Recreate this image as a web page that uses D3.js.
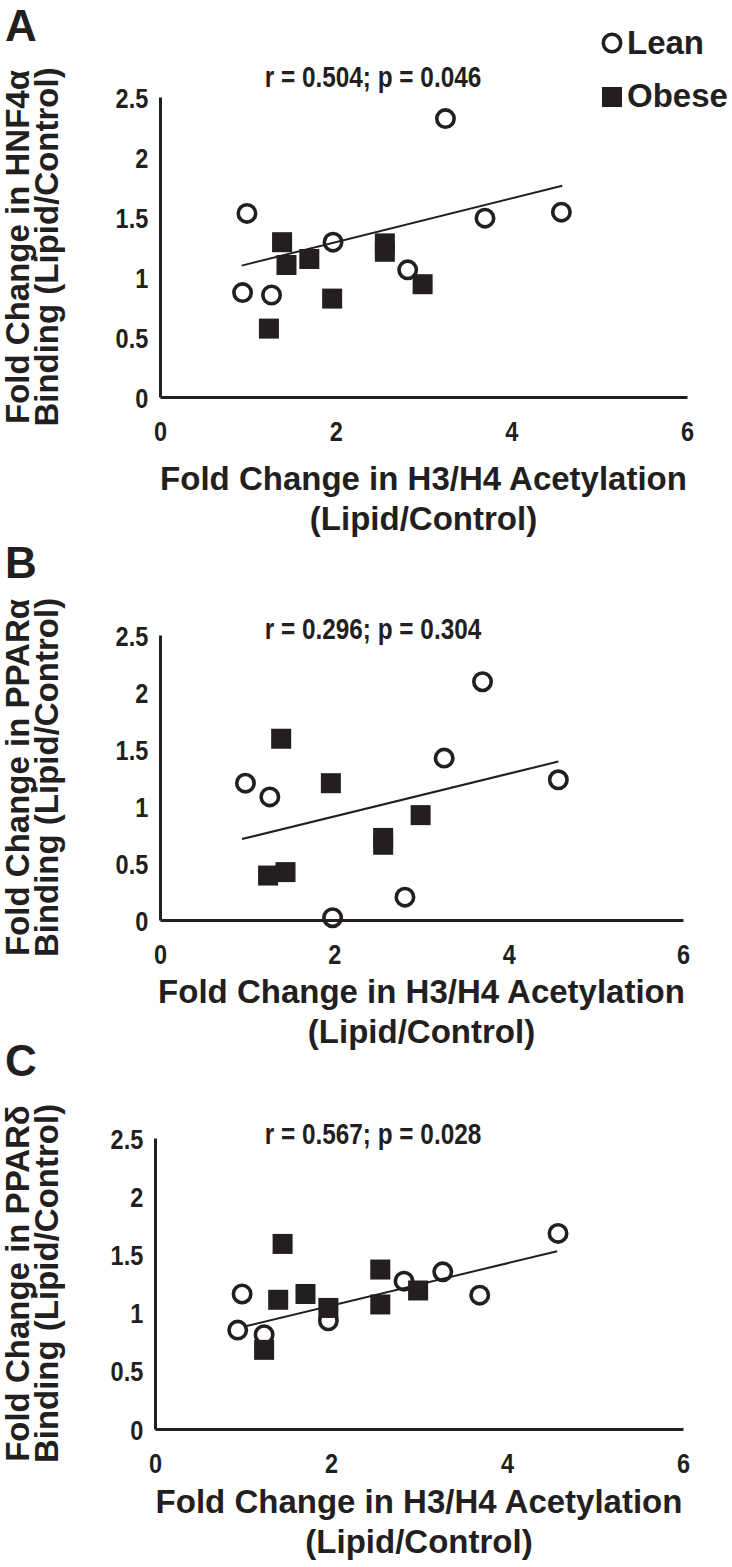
<!DOCTYPE html>
<html>
<head>
<meta charset="utf-8">
<script src="https://cdn.jsdelivr.net/npm/d3@7"></script>
<style>
  html, body { margin: 0; padding: 0; background: #fff; }
  svg { display: block; font-family: "Liberation Sans", Arial, sans-serif; font-weight: bold; }
  .axis text { fill: #231f20; font-size: 28px; font-family: "Liberation Sans", Arial, sans-serif; font-weight: bold; }
  .axis path { stroke: #231f20; stroke-width: 3; }
</style>
</head>
<body>
<svg id="chart" width="732" height="1567"></svg>
<script>
// values
const xTicks = [0, 2, 4, 6];
const yTicks = [0, 0.5, 1, 1.5, 2, 2.5];
const xLabel = ['Fold Change in H3/H4 Acetylation', '(Lipid/Control)'];
const yLabelLine2 = 'Binding (Lipid/Control)';

const leanAx = [0.99, 0.94, 1.27, 1.97, 2.82, 3.25, 3.70, 4.57];
const leanAy = [1.53, 0.87, 0.85, 1.29, 1.06, 2.32, 1.49, 1.54];
const obeseAx = [1.39, 1.44, 1.70, 1.96, 2.56, 2.56, 2.99, 1.24];
const obeseAy = [1.29, 1.10, 1.15, 0.82, 1.28, 1.21, 0.94, 0.57];
const trendA = { x: [0.93, 4.58], y: [1.095, 1.76] };

const leanBx = [0.98, 1.26, 1.98, 2.81, 3.26, 3.70, 4.57];
const leanBy = [1.20, 1.08, 0.02, 0.20, 1.42, 2.09, 1.23];
const obeseBx = [1.39, 1.96, 1.24, 1.44, 2.56, 2.56, 2.99];
const obeseBy = [1.59, 1.20, 0.39, 0.42, 0.72, 0.66, 0.92];
const trendB = { x: [0.94, 4.57], y: [0.71, 1.39] };

const leanCx = [0.99, 0.94, 1.24, 1.97, 2.83, 3.27, 3.69, 4.58];
const leanCy = [1.16, 0.85, 0.81, 0.93, 1.27, 1.35, 1.15, 1.68];
const obeseCx = [1.45, 1.40, 1.71, 1.97, 2.56, 2.56, 2.99, 1.24];
const obeseCy = [1.59, 1.11, 1.16, 1.04, 1.37, 1.07, 1.19, 0.68];
const trendC = { x: [1.04, 4.57], y: [0.885, 1.527] };

const ink = '#231f20';
const squeeze = 0.84; // the figure's small text is condensed
const svg = d3.select('#chart');

const panels = [
  { letter: 'A', letterY: 41, left: 160, right: 687, top: 97, bottom: 397, statY: 87, xLabelY: 490,
    yLabel: 'Fold Change in HNF4α', stat: 'r = 0.504; p = 0.046',
    lean: d3.zip(leanAx, leanAy), obese: d3.zip(obeseAx, obeseAy), trend: trendA },
  { letter: 'B', letterY: 578, left: 160, right: 683, top: 635, bottom: 920, statY: 639, xLabelY: 1003,
    yLabel: 'Fold Change in PPARα', stat: 'r = 0.296; p = 0.304',
    lean: d3.zip(leanBx, leanBy), obese: d3.zip(obeseBx, obeseBy), trend: trendB },
  { letter: 'C', letterY: 1076, left: 155, right: 683, top: 1138, bottom: 1429, statY: 1144, xLabelY: 1513,
    yLabel: 'Fold Change in PPARδ', stat: 'r = 0.567; p = 0.028',
    lean: d3.zip(leanCx, leanCy), obese: d3.zip(obeseCx, obeseCy), trend: trendC }
];

function drawPanel(p) {
  const x = d3.scaleLinear().domain([0, 6]).range([p.left, p.right]);
  const y = d3.scaleLinear().domain([0, 2.5]).range([p.bottom, p.top]);
  const g = svg.append('g');

  g.append('g')
    .attr('class', 'axis')
    .attr('transform', `translate(${p.left},0)`)
    .call(d3.axisLeft(y).tickValues(yTicks).tickSize(0).tickPadding(14).tickFormat((d) => `${d}`))
    .call((a) => a.selectAll('text').attr('dy', '0.36em').attr('transform', `scale(${squeeze},1)`));
  g.append('g')
    .attr('class', 'axis')
    .attr('transform', `translate(0,${p.bottom})`)
    .call(d3.axisBottom(x).tickValues(xTicks).tickSize(0).tickPadding(24).tickFormat((d) => `${d}`))
    .call((a) => a.selectAll('text').attr('transform', `scale(${squeeze},1)`));

  const midX = (p.left + p.right) / 2;
  const midY = (p.top + p.bottom) / 2;

  g.append('text')
    .attr('x', 5).attr('y', p.letterY)
    .attr('font-size', 44).attr('fill', ink)
    .text(p.letter);

  g.append('text')
    .attr('transform', `translate(373,${p.statY}) scale(${squeeze},1)`)
    .attr('text-anchor', 'middle').attr('font-size', 29).attr('fill', ink)
    .text(p.stat);

  g.selectAll('text.xlab')
    .data(xLabel)
    .join('text')
    .attr('class', 'xlab')
    .attr('x', midX)
    .attr('y', (d, i) => p.xLabelY + i * 40)
    .attr('text-anchor', 'middle').attr('font-size', 33).attr('fill', ink)
    .text((d) => d);

  g.selectAll('text.ylab')
    .data([p.yLabel, yLabelLine2])
    .join('text')
    .attr('class', 'ylab')
    .attr('transform', (d, i) => `translate(${29 + i * 29},${midY}) rotate(-90)`)
    .attr('text-anchor', 'middle').attr('font-size', 33).attr('fill', ink)
    .text((d) => d);

  g.append('line')
    .attr('x1', x(p.trend.x[0])).attr('y1', y(p.trend.y[0]))
    .attr('x2', x(p.trend.x[1])).attr('y2', y(p.trend.y[1]))
    .attr('stroke', ink).attr('stroke-width', 2);

  g.selectAll('circle.lean')
    .data(p.lean)
    .join('circle')
    .attr('class', 'lean')
    .attr('cx', (d) => x(d[0])).attr('cy', (d) => y(d[1]))
    .attr('r', 8.7)
    .attr('fill', 'none').attr('stroke', ink).attr('stroke-width', 3.6);

  g.selectAll('rect.obese')
    .data(p.obese)
    .join('rect')
    .attr('class', 'obese')
    .attr('x', (d) => x(d[0]) - 10).attr('y', (d) => y(d[1]) - 10)
    .attr('width', 20).attr('height', 20)
    .attr('fill', ink);
}

panels.forEach(drawPanel);

// legend, top right of panel A
const legend = svg.append('g').attr('transform', 'translate(612,0)');
legend.append('circle').attr('cx', 0).attr('cy', 43).attr('r', 8.7)
  .attr('fill', 'none').attr('stroke', ink).attr('stroke-width', 3.6);
legend.append('rect').attr('x', -10).attr('y', 87).attr('width', 20).attr('height', 20).attr('fill', ink);
legend.selectAll('text')
  .data(['Lean', 'Obese'])
  .join('text')
  .attr('x', 15)
  .attr('y', (d, i) => 54 + i * 53)
  .attr('font-size', 33).attr('fill', ink)
  .text((d) => d);
</script>
</body>
</html>
